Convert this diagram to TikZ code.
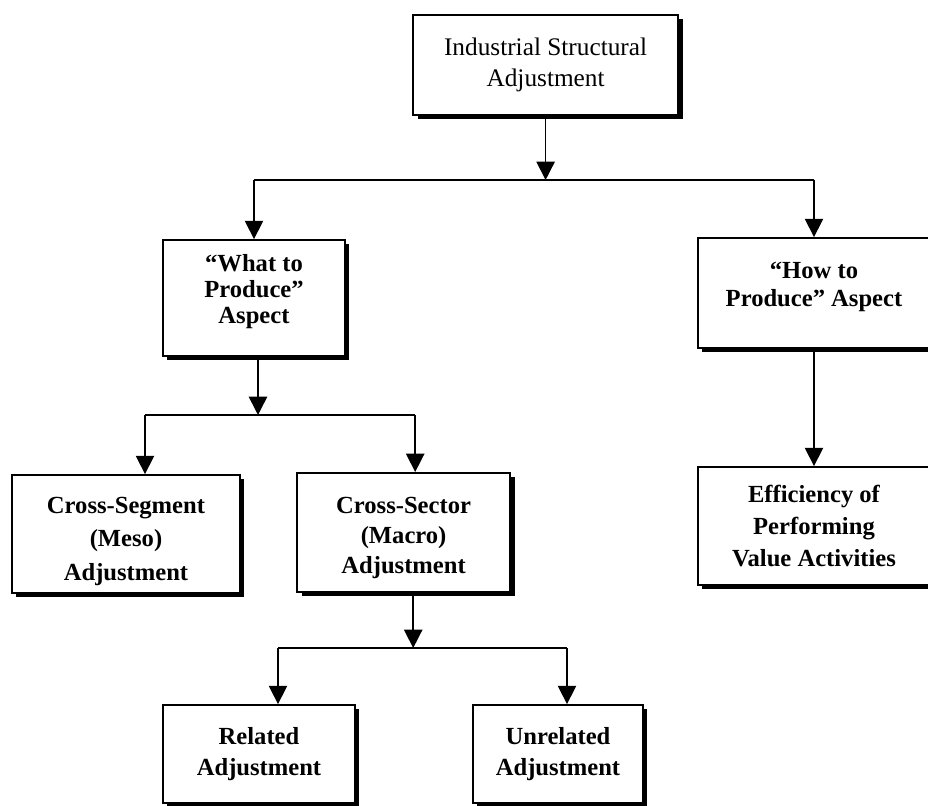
\documentclass[tikz,border=0pt]{standalone}
\usepackage{fontspec}
\setmainfont{Liberation Serif}
\usetikzlibrary{arrows.meta, positioning, shadows, calc}

\tikzset{
    box/.style={rectangle, draw=black, line width=1.3pt, fill=white,
                align=center, inner sep=2pt,
                font=\fontsize{17.5}{23.5}\selectfont\bfseries,
                drop shadow={shadow xshift=0.11cm, shadow yshift=-0.11cm,
                             opacity=1, fill=black}},
    linesp/.style={font=\fontsize{17.5}{#1}\selectfont\bfseries},
    toptext/.style={font=\fontsize{18}{21.5}\selectfont},
    arr/.style={-{Triangle[width=13pt,length=13pt]}, line width=1.1pt},
    busline/.style={line width=1.1pt}
}

\begin{document}
\begin{tikzpicture}
    \useasboundingbox (0,0) rectangle (23.2,-20.15);

    % Top level
    \node[box, toptext, minimum width=6.625cm, minimum height=2.5cm]
        (isa) at (13.64,-1.625) {Industrial Structural\\Adjustment};

    % Two aspects
    \node[box, linesp=18.5pt, minimum width=4.55cm, minimum height=2.9cm]
        (what) at (6.35,-7.45) {``What to\\Produce''\\Aspect\\[-5.7pt]};
    \node[box, linesp=20pt, minimum width=5.8cm, minimum height=2.75cm]
        (how) at (20.35,-7.325) {``How to\\Produce'' Aspect\\[-7.5pt]};

    % Third level
    \node[box, linesp=24pt, minimum width=5.7cm, minimum height=2.95cm]
        (meso) at (3.15,-13.35) {\\[-2pt]Cross-Segment\\(Meso)\\Adjustment};
    \node[box, linesp=21.5pt, minimum width=5.325cm, minimum height=2.975cm]
        (macro) at (10.09,-13.31) {\\[-2pt]Cross-Sector\\(Macro)\\Adjustment};
    \node[box, linesp=22.8pt, minimum width=5.8cm, minimum height=2.95cm]
        (eff) at (20.35,-13.15) {Efficiency of\\Performing\\Value Activities};

    % Bottom level
    \node[box, linesp=22pt, minimum width=4.8cm, minimum height=2.45cm]
        (rel) at (6.475,-18.85) {Related\\Adjustment};
    \node[box, linesp=22pt, minimum width=4.25cm, minimum height=2.45cm]
        (unrel) at (13.95,-18.85) {Unrelated\\Adjustment};

    % Bus lines
    \coordinate (bus1) at (0,-4.5);
    \coordinate (bus2) at (0,-10.375);
    \coordinate (bus3) at (0,-16.2);

    % Entry / exit points off centre
    \coordinate (whatOut) at ([xshift=0.1cm]what.south);
    \coordinate (mesoIn) at ([xshift=0.475cm]meso.north);
    \coordinate (macroIn) at ([xshift=0.29cm]macro.north);
    \coordinate (macroOut) at ([xshift=0.24cm]macro.south);
    \coordinate (relIn) at ([xshift=0.475cm]rel.north);
    \coordinate (unrelIn) at ([xshift=0.225cm]unrel.north);

    % Level 1 -> 2
    \draw[arr] (isa.south) -- (isa.south |- bus1);
    \draw[busline] (what.north |- bus1) -- (how.north |- bus1);
    \draw[arr] (what.north |- bus1) -- (what.north);
    \draw[arr] (how.north |- bus1) -- (how.north);

    % Level 2 -> 3
    \draw[arr] (whatOut) -- (whatOut |- bus2);
    \draw[busline] (mesoIn |- bus2) -- (macroIn |- bus2);
    \draw[arr] (mesoIn |- bus2) -- (mesoIn);
    \draw[arr] (macroIn |- bus2) -- (macroIn);
    \draw[arr] (how.south) -- (eff.north);

    % Level 3 -> 4
    \draw[arr] (macroOut) -- (macroOut |- bus3);
    \draw[busline] (relIn |- bus3) -- (unrelIn |- bus3);
    \draw[arr] (relIn |- bus3) -- (relIn);
    \draw[arr] (unrelIn |- bus3) -- (unrelIn);
\end{tikzpicture}
\end{document}
